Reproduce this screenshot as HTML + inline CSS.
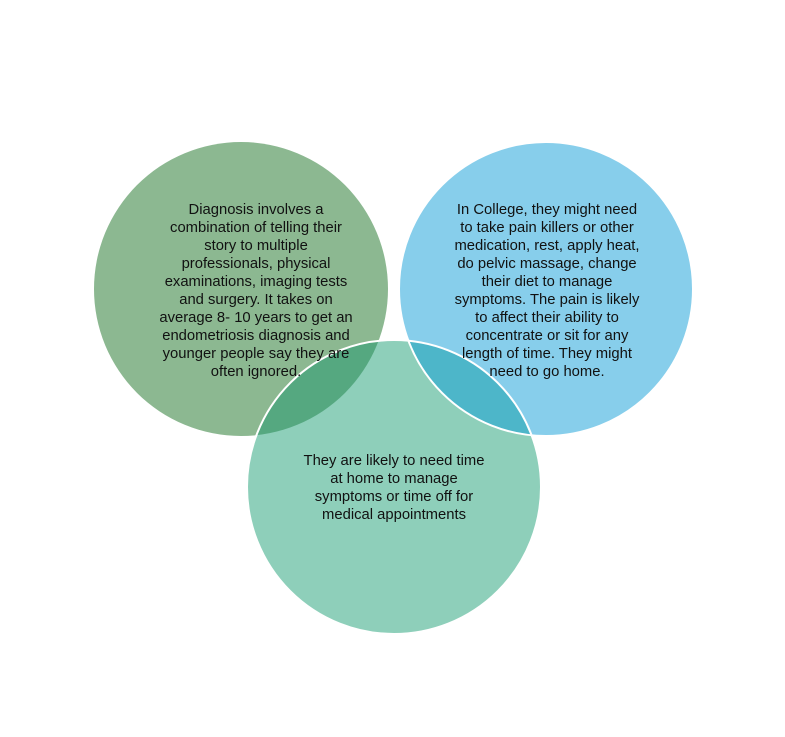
<!DOCTYPE html>
<html><head><style>
html,body{margin:0;padding:0;background:#fff}
svg{display:block}
text{font-family:"Liberation Sans",sans-serif;font-size:14.8px;fill:#111}
</style></head><body>
<svg width="785" height="737" viewBox="0 0 785 737">
<defs>
<clipPath id="cl"><circle cx="241" cy="289" r="147"/></clipPath>
<clipPath id="cr"><circle cx="546" cy="289" r="147"/></clipPath>
</defs>
<circle cx="241" cy="289" r="147" fill="#8cb891"/>
<circle cx="546" cy="289" r="147" fill="#87ceeb"/>
<circle cx="394" cy="487" r="147" fill="#8ecfba"/>
<circle cx="394" cy="487" r="147" fill="#55a880" clip-path="url(#cl)"/>
<circle cx="394" cy="487" r="147" fill="#4db6c9" clip-path="url(#cr)"/>
<circle cx="394" cy="487" r="147" fill="none" stroke="#fff" stroke-width="2"/>
<circle cx="546" cy="289" r="147" fill="none" stroke="#fff" stroke-width="2"/>
<g text-anchor="middle">
<text x="256" y="214">Diagnosis involves a</text>
<text x="256" y="232">combination of  telling their</text>
<text x="256" y="250">story to multiple</text>
<text x="256" y="268">professionals, physical</text>
<text x="256" y="286">examinations, imaging tests</text>
<text x="256" y="304">and surgery. It takes on</text>
<text x="256" y="322">average 8- 10 years to get an</text>
<text x="256" y="340">endometriosis diagnosis and</text>
<text x="256" y="358">younger people say they are</text>
<text x="256" y="376">often ignored.</text>
<text x="547" y="214">In College, they might need</text>
<text x="547" y="232">to take pain killers or other</text>
<text x="547" y="250">medication, rest, apply heat,</text>
<text x="547" y="268">do pelvic massage, change</text>
<text x="547" y="286">their diet to manage</text>
<text x="547" y="304">symptoms. The pain is likely</text>
<text x="547" y="322">to affect their ability to</text>
<text x="547" y="340">concentrate or sit for any</text>
<text x="547" y="358">length of time. They might</text>
<text x="547" y="376">need to go home.</text>
<text x="394" y="465">They are likely to need time</text>
<text x="394" y="483">at home to manage</text>
<text x="394" y="501">symptoms or time off for</text>
<text x="394" y="519">medical appointments</text>
</g>
</svg>
</body></html>
